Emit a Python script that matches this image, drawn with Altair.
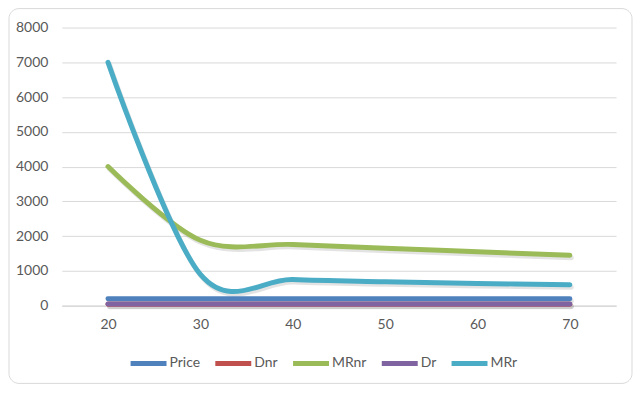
import altair as alt
import pandas as pd

categories = [20, 30, 40, 50, 60, 70]
series_names = ["Price", "Dnr", "MRnr", "Dr", "MRr"]
price = [200, 200, 200, 200, 200, 200]
dnr = [40, 40, 40, 40, 40, 40]
mrnr = [4000, 1880, 1760, 1650, 1550, 1450]
dr = [50, 50, 50, 50, 50, 50]
mrr = [7000, 900, 750, 690, 640, 600]
colors = ["#4f81bd", "#c0504d", "#9bbb59", "#8064a2", "#4bacc6"]
y_ticks = [0, 1000, 2000, 3000, 4000, 5000, 6000, 7000, 8000]

rows = []
for order, (name, vals) in enumerate(zip(series_names, [price, dnr, mrnr, dr, mrr])):
    for c, v in zip(categories, vals):
        rows.append({"Q": c, "value": v, "series": name, "k": order})
df = pd.DataFrame(rows)

FONT = "Lato"
TXT = "#595959"

x = alt.X("Q:O", scale=alt.Scale(type="point", padding=0.5),
          axis=alt.Axis(title=None, labelAngle=0, ticks=False, domain=True,
                        domainColor="#d9d9d9", domainWidth=1.5, grid=False,
                        labelPadding=12, labelFont=FONT, labelFontSize=14,
                        labelColor=TXT))
y = alt.Y("value:Q", scale=alt.Scale(domain=[0, 8000], nice=False),
          axis=alt.Axis(title=None, values=y_ticks, format="d", ticks=False, domain=False,
                        gridColor="#d9d9d9", gridWidth=1, labelPadding=14,
                        labelFont=FONT, labelFontSize=14, labelColor=TXT))

base = alt.Chart(df)

shadow = base.mark_line(interpolate="cardinal", tension=0, strokeWidth=5,
                        color="#808080", opacity=0.22, xOffset=1.5, yOffset=2.5,
                        strokeCap="round").encode(
    x=x, y=y, detail="series:N", order="Q:O")

lines = base.mark_line(interpolate="cardinal", tension=0, strokeWidth=5,
                       strokeCap="round").encode(
    x=x, y=y,
    color=alt.Color("series:N",
                    scale=alt.Scale(domain=series_names, range=colors),
                    sort=series_names,
                    legend=alt.Legend(title=None, orient="none", direction="horizontal",
                                      legendX=66, legendY=316,
                                      symbolType="stroke", symbolSize=1300,
                                      symbolStrokeWidth=5, labelOffset=0,
                                      columnPadding=4,
                                      labelFont=FONT, labelFontSize=14,
                                      labelColor=TXT)),
    order="Q:O")

frame = alt.Chart(pd.DataFrame({"a": [0]})).mark_rect(
    fill=None, stroke="#d9d9d9", strokeWidth=1, cornerRadius=10).encode(
    x=alt.value(-53), x2=alt.value(572), y=alt.value(-19), y2=alt.value(357))

chart = alt.layer(frame, shadow, lines).properties(
    width=556, height=279,
    padding={"left": 54, "top": 19, "right": 18, "bottom": 78},
    autosize=alt.AutoSizeParams(type="none"),
    background="white",
).configure_view(stroke=None)

chart.save("out.html", embed_options={"renderer": "svg", "actions": False})
